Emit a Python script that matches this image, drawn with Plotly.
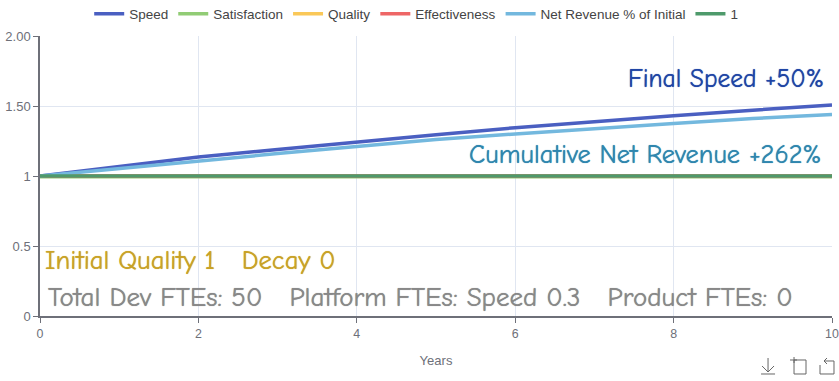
import plotly.graph_objects as go

years = [0, 1, 2, 3, 4, 5, 6, 7, 8, 9, 10]
speed = [1, 1.07, 1.135, 1.19, 1.245, 1.295, 1.345, 1.39, 1.43, 1.47, 1.507]
satisfaction = [0.995] * 11
quality = [1] * 11
effectiveness = [1] * 11
net_revenue = [1, 1.055, 1.105, 1.16, 1.21, 1.26, 1.30, 1.34, 1.375, 1.41, 1.44]
baseline = [1] * 11
y_ticks = [0, 0.5, 1, 1.5, 2]
y_labels = ["0", "0.5", "1", "1.50", "2.00"]
x_ticks = [0, 2, 4, 6, 8, 10]

W, H = 839, 381
L, R, T, B = 39.5, 832, 36, 316
FONT = "Liberation Sans, Arial, sans-serif"
HAND = "Comic Sans MS, Comic Neue, Noto Sans, sans-serif"
AXIS = "#6E7079"
GRID = "#E0E6F1"

series = [
    ("Speed", speed, "#4A5FC1"),
    ("Satisfaction", satisfaction, "#91CC75"),
    ("Quality", quality, "#FAC858"),
    ("Effectiveness", effectiveness, "#EE6666"),
    ("Net Revenue % of Initial", net_revenue, "#73B8DE"),
    ("1", baseline, "#4E9A6B"),
]

fig = go.Figure()
for name, vals, color in series:
    fig.add_trace(go.Scatter(x=years, y=vals, name=name, mode="lines",
                             line=dict(color=color, width=3.5)))


def note(text, px, py, size, color, anchor):
    fig.add_annotation(text=text, xref="paper", yref="paper",
                       x=(px - L) / (R - L), y=(B - py) / (B - T),
                       xanchor=anchor, yanchor="middle", showarrow=False,
                       font=dict(family=HAND, size=size, color=color,
                                 shadow=f"0 0 0.8px {color}"))


note("Final Speed +50%", 826, 78, 25.5, "#1F45A5", "right")
note("Cumulative Net Revenue +262%", 824, 154, 26.4, "#2F86AE", "right")
note("Initial Quality 1\u00a0\u00a0\u00a0Decay 0", 43, 260, 26.6, "#C9A227", "left")
note("Total Dev FTEs: 50\u00a0\u00a0\u00a0Platform FTEs: Speed 0.3\u00a0\u00a0\u00a0Product FTEs: 0",
     46, 297, 27, "#888888", "left")

# toolbox icons
icon = dict(color="#666666", width=1)
def path(d):
    fig.add_shape(type="path", path=d, xref="x domain", yref="y domain", line=icon)
def P(pts):
    return "M " + " L ".join(f"{(x-L)/(R-L):.5f},{(B-y)/(B-T):.5f}" for x, y in pts)
path(P([(768, 358), (768, 372)]))
path(P([(762, 366), (768, 372), (774, 366)]))
path(P([(761, 374), (775, 374)]))
path(P([(794, 360), (806, 360), (806, 374), (794, 374), (794, 360)]))
path(P([(790, 360), (797, 360)]))
path(P([(794, 357), (794, 363)]))
path(P([(824, 361), (834, 361), (834, 374), (820, 374), (820, 365)]))
path(P([(824, 361), (827, 358)]))
path(P([(824, 361), (827, 364)]))

fig.update_layout(
    width=W, height=H, autosize=False,
    margin=dict(l=L, r=W - R, t=T, b=H - B, autoexpand=False),
    paper_bgcolor="white", plot_bgcolor="white",
    font=dict(family=FONT, size=13, color=AXIS),
    legend=dict(orientation="h", x=0.475, xanchor="center", y=1.0786, yanchor="middle",
                font=dict(size=13.5, color="#444444"), itemwidth=30,
                traceorder="normal", bgcolor="rgba(0,0,0,0)"),
    xaxis=dict(range=[0, 10], tickvals=x_ticks, showgrid=True, gridcolor=GRID,
               showline=True, linecolor=AXIS, linewidth=1.5, ticks="outside",
               ticklen=5, tickcolor=AXIS, tickfont=dict(size=12.4, color=AXIS),
               zeroline=False, title=dict(text="Years", font=dict(size=13, color=AXIS), standoff=16)),
    yaxis=dict(range=[0, 2], tickvals=y_ticks, ticktext=y_labels, showgrid=True,
               gridcolor=GRID, showline=True, linecolor=AXIS, linewidth=1.5,
               ticks="outside", ticklen=5, tickcolor=AXIS,
               tickfont=dict(size=13, color=AXIS), zeroline=False),
    showlegend=True,
)
fig.write_html("out.html", config={"displayModeBar": False},
               post_script="document.body.style.margin='0';document.body.style.overflow='hidden';")
